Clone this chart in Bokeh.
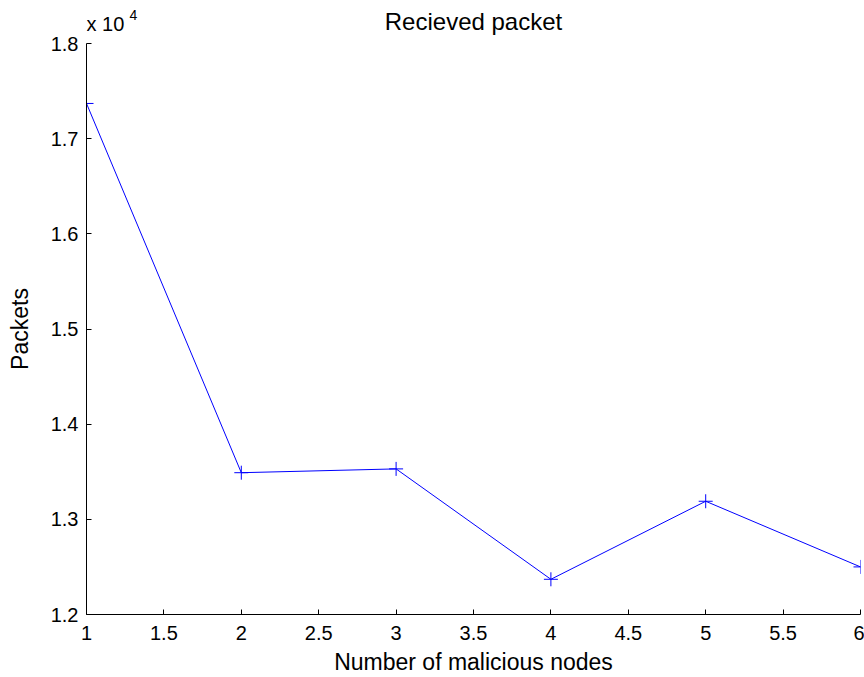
from bokeh.plotting import figure
from bokeh.layouts import column
from bokeh.models import Range1d, FixedTicker, CustomJSTickFormatter, Label
from bokeh.embed import file_html
from bokeh.resources import INLINE

nodes = [1, 2, 3, 4, 5, 6]
packets = [17370, 13490, 13530, 12370, 13190, 12500]
x_ticks = [1, 1.5, 2, 2.5, 3, 3.5, 4, 4.5, 5, 5.5, 6]
y_ticks = [12000, 13000, 14000, 15000, 16000, 17000, 18000]
title_text = "Recieved packet"
x_label = "Number of malicious nodes"
y_label = "Packets"
exp_base = "x 10"
exp_power = "4"

FONT = "Liberation Sans"
W = 864
HEAD_H = 35

# ---- header strip: title and the axis multiplier ----
# (its frame is aligned with the main plot's frame by the column layout)
head = figure(width=W, height=HEAD_H, output_backend="svg", toolbar_location=None,
              title=None, x_axis_type=None, y_axis_type=None,
              x_range=Range1d(0, 1), y_range=Range1d(0, 1),
              min_border_left=0, min_border_right=0, min_border_top=0, min_border_bottom=0)
head.outline_line_color = None
head.background_fill_color = "white"
head.border_fill_color = "white"

head.add_layout(Label(x=387, y=HEAD_H - 21, x_units="screen", y_units="screen", text=title_text,
                      text_font=FONT, text_font_size="24px", text_align="center",
                      text_baseline="middle", text_color="black"))
head.add_layout(Label(x=0, y=HEAD_H - 23.5, x_units="screen", y_units="screen", text=exp_base,
                      text_font=FONT, text_font_size="20px", text_align="left",
                      text_baseline="middle", text_color="black"))
head.add_layout(Label(x=43, y=HEAD_H - 14, x_units="screen", y_units="screen", text=exp_power,
                      text_font=FONT, text_font_size="14px", text_align="left",
                      text_baseline="middle", text_color="black"))

# ---- main plot ----
p = figure(width=W, height=677 - HEAD_H, output_backend="svg", toolbar_location=None,
           title=None,
           x_range=Range1d(nodes[0], nodes[-1]), y_range=Range1d(y_ticks[0], y_ticks[-1]),
           min_border_left=86, min_border_right=4, min_border_top=43 - HEAD_H,
           min_border_bottom=63)
p.outline_line_color = None
p.grid.visible = False
p.background_fill_color = "white"

p.line(nodes, packets, line_color="#0000ff", line_width=1)
p.scatter(nodes, packets, marker="cross", size=14, line_color="#0000ff", line_width=1)

for ax in (p.xaxis[0], p.yaxis[0]):
    ax.major_tick_in = 5
    ax.major_tick_out = 0
    ax.minor_tick_line_color = None
    ax.axis_line_color = "black"
    ax.major_tick_line_color = "black"
    ax.major_label_text_font = FONT
    ax.major_label_text_font_size = "20px"
    ax.major_label_text_color = "black"
    ax.axis_label_text_font = FONT
    ax.axis_label_text_font_size = "23px"
    ax.axis_label_text_font_style = "normal"
    ax.axis_label_text_color = "black"

p.xaxis.ticker = FixedTicker(ticks=x_ticks)
p.xaxis.major_label_overrides = {t: ("%g" % t) for t in x_ticks}
p.xaxis.axis_label = x_label
p.xaxis.major_label_standoff = 11
p.xaxis.axis_label_standoff = 6

p.yaxis.ticker = FixedTicker(ticks=y_ticks)
p.yaxis.formatter = CustomJSTickFormatter(code="return (tick/1e4).toFixed(1);")
p.yaxis.axis_label = y_label
p.yaxis.major_label_standoff = 8
p.yaxis.axis_label_standoff = 15

layout = column(head, p, spacing=0)
open("out.html", "w").write(file_html(layout, INLINE))
